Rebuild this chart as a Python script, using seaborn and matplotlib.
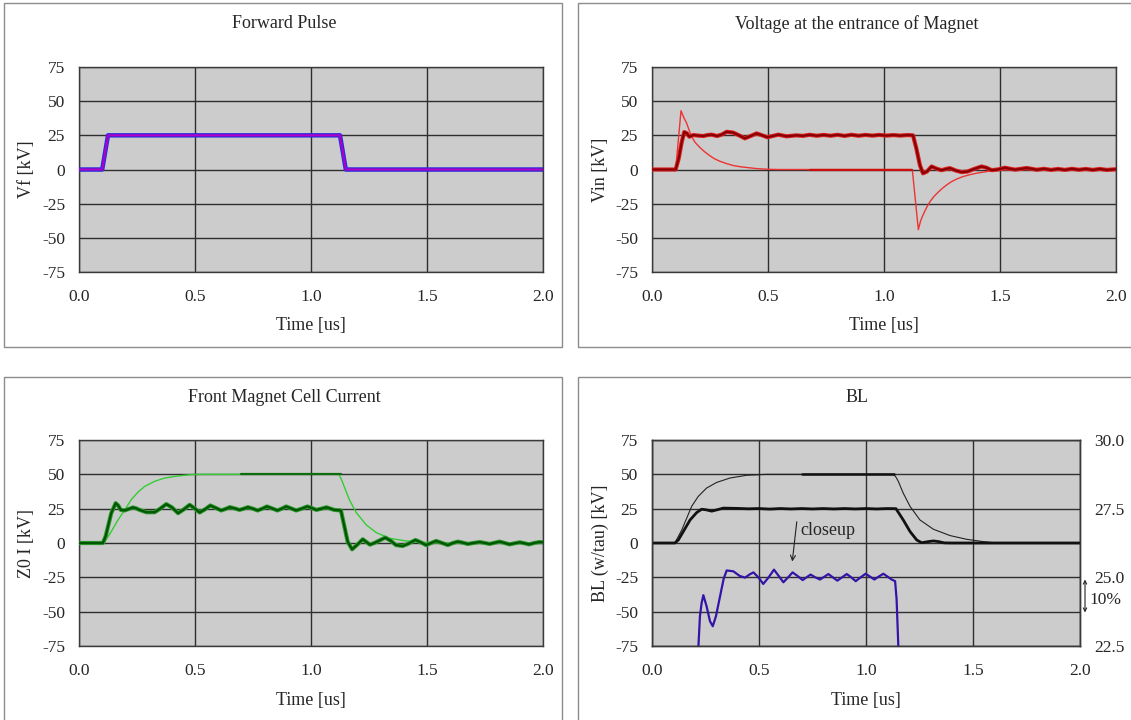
import numpy as np
import pandas as pd
import matplotlib
matplotlib.use("Agg")
import matplotlib.pyplot as plt
import seaborn as sns
from matplotlib.patches import Rectangle

# ---------------- data ----------------
x_ticks = [0.0, 0.5, 1.0, 1.5, 2.0]
x_tick_labels = ["0.0", "0.5", "1.0", "1.5", "2.0"]
y_ticks = [-75, -50, -25, 0, 25, 50, 75]
y_tick_labels = ["-75", "-50", "-25", "0", "25", "50", "75"]
r_ticks = [22.5, 25.0, 27.5, 30.0]
r_tick_labels = ["22.5", "25.0", "27.5", "30.0"]

# Panel 1: Forward Pulse
fp_t = [0.0, 0.100, 0.125, 1.125, 1.150, 2.0]
fp_v = [0, 0, 25, 25, 0, 0]

# Panel 2: Voltage at the entrance of Magnet
vin_thin_t = [0.0, 0.102, 0.125, 0.137, 0.149, 0.168, 0.185, 0.207, 0.228, 0.25, 0.27, 0.293,
              0.32, 0.35, 0.385, 0.422, 0.455, 0.494, 0.54, 1.122, 1.148, 1.158, 1.169, 1.183,
              1.198, 1.215, 1.234, 1.252, 1.27, 1.29, 1.313, 1.34, 1.37, 1.40, 1.428, 1.46,
              1.50, 1.557, 2.0]
vin_thin_v = [0, 0, 43.0, 38.0, 34.0, 25.0, 20.0, 16.0, 12.8, 10.0, 7.8, 6.0,
              4.4, 2.9, 1.9, 1.2, 0.6, 0.2, 0, 0, -44.0, -37.5, -33.0, -28.0,
              -23.6, -19.8, -16.5, -13.7, -11.3, -9.0, -7.0, -5.2, -3.8, -2.7, -1.9, -1.1,
              -0.5, 0, 0]
vin_seg_t = [0.68, 1.12]
vin_seg_v = [0, 0]
vin_t = [0.0, 0.102, 0.115, 0.128, 0.139, 0.150, 0.161, 0.178, 0.200, 0.221, 0.240, 0.257,
         0.280, 0.300, 0.322, 0.350, 0.375, 0.400, 0.425, 0.451, 0.475, 0.497, 0.520, 0.544,
         0.580, 0.623, 0.65, 0.68, 0.71, 0.74, 0.77, 0.80, 0.83, 0.86, 0.89, 0.92, 0.95,
         0.98, 1.01, 1.04, 1.07, 1.10, 1.125, 1.140, 1.155, 1.168, 1.185, 1.205, 1.228,
         1.248, 1.265, 1.284, 1.310, 1.334, 1.360, 1.390, 1.420, 1.440, 1.464, 1.490,
         1.521, 1.545, 1.565, 1.590, 1.615, 1.640, 1.658, 1.69, 1.72, 1.75, 1.78, 1.81,
         1.84, 1.87, 1.90, 1.93, 1.96, 2.0]
vin_v = [0, 0, 8.0, 20.0, 27.4, 26.5, 24.0, 25.2, 24.8, 24.5, 25.2, 25.5,
         24.5, 25.5, 27.6, 27.0, 25.0, 22.8, 24.5, 26.4, 25.0, 23.6, 24.5, 25.5,
         24.3, 25.0, 24.6, 25.4, 24.7, 25.3, 24.7, 25.4, 24.6, 25.4, 24.7, 25.3, 24.8,
         25.3, 24.8, 25.2, 24.8, 25.2, 25.0, 15.0, 3.0, -2.8, -1.5, 2.2, 0.5,
         -0.5, 0.3, 1.0, -0.8, -1.9, -1.5, 0.5, 2.2, 1.4, -0.5, 0.0,
         1.3, 0.5, -0.1, 0.5, 1.1, 0.4, -0.2, 0.5, -0.3, 0.4, -0.3, 0.5,
         -0.2, 0.4, -0.3, 0.4, -0.3, 0.2]

# Panel 3: Front Magnet Cell Current
zl_t = [0.0, 0.108, 0.139, 0.168, 0.197, 0.225, 0.254, 0.283, 0.326, 0.369, 0.427, 0.484,
        0.534, 1.120, 1.132, 1.144, 1.166, 1.195, 1.238, 1.281, 1.339, 1.410, 1.483, 1.555, 2.0]
zl_v = [0, 0, 8.3, 16.8, 24.0, 31.5, 37.0, 41.2, 44.9, 47.3, 48.8, 49.8,
        50, 50, 46.0, 40.7, 31.3, 22.2, 13.2, 7.6, 3.4, 1.5, 0.5, 0, 0]
zl_seg_t = [0.70, 1.13]
zl_seg_v = [50, 50]
zi_t = [0.0, 0.103, 0.115, 0.125, 0.139, 0.158, 0.168, 0.180, 0.197, 0.215, 0.233, 0.247,
        0.261, 0.290, 0.326, 0.350, 0.376, 0.400, 0.427, 0.452, 0.477, 0.500, 0.520, 0.543,
        0.566, 0.590, 0.613, 0.632, 0.650, 0.671, 0.692, 0.710, 0.728, 0.749, 0.770, 0.790,
        0.810, 0.832, 0.855, 0.874, 0.893, 0.914, 0.936, 0.960, 0.984, 1.003, 1.023, 1.045,
        1.067, 1.084, 1.100, 1.129, 1.144, 1.158, 1.177, 1.201, 1.223, 1.254, 1.273, 1.297,
        1.320, 1.345, 1.366, 1.395, 1.420, 1.450, 1.473, 1.496, 1.518, 1.539, 1.565, 1.590,
        1.612, 1.633, 1.655, 1.676, 1.700, 1.727, 1.750, 1.770, 1.792, 1.813, 1.835, 1.856,
        1.878, 1.900, 1.920, 1.940, 1.962, 1.985, 2.0]
zi_v = [0, 0, 5.0, 12.0, 21.7, 29.0, 27.5, 24.1, 23.7, 24.8, 25.9, 25.2,
        24.1, 22.4, 22.4, 25.0, 28.3, 26.0, 21.7, 24.5, 27.8, 25.0, 22.2, 24.5,
        27.3, 25.5, 23.7, 24.8, 26.1, 25.2, 24.1, 25.0, 26.1, 25.0, 23.7, 25.0,
        26.6, 25.2, 23.7, 25.0, 26.6, 25.2, 23.7, 25.0, 26.6, 25.5, 24.1, 25.0,
        26.0, 25.0, 24.1, 23.7, 12.0, 1.0, -4.6, -1.0, 2.7, -1.2, 0.0, 2.0,
        3.9, 1.5, -1.5, -2.2, -0.5, 2.2, 0.5, -1.5, 0.0, 1.5, 0.0, -1.5,
        0.0, 1.0, 0.2, -0.7, 0.0, 0.7, 0.0, -0.7, 0.2, 1.0, 0.0, -1.0,
        -0.2, 0.5, -0.2, -1.0, 0.0, 0.7, 0.5]

# Panel 4: BL
bl_thin_t = [0.0, 0.107, 0.139, 0.162, 0.185, 0.216, 0.255, 0.302, 0.364, 0.442, 0.536,
             1.128, 1.140, 1.151, 1.174, 1.206, 1.252, 1.315, 1.393, 1.470, 1.548, 1.610, 2.0]
bl_thin_v = [0, 0, 9.5, 18.0, 26.6, 33.9, 40.0, 44.1, 47.3, 49.3, 50,
             50, 48.0, 44.9, 36.3, 26.6, 16.8, 10.0, 5.4, 2.7, 1.0, 0, 0]
bl_seg_t = [0.70, 1.13]
bl_seg_v = [50, 50]
bl_t = [0.0, 0.107, 0.123, 0.146, 0.178, 0.209, 0.232, 0.255, 0.279, 0.302, 0.333, 0.40,
        0.45, 0.50, 0.55, 0.60, 0.65, 0.70, 0.75, 0.80, 0.85, 0.90, 0.95, 1.00, 1.05,
        1.10, 1.140, 1.174, 1.206, 1.237, 1.260, 1.290, 1.315, 1.340, 1.365, 1.40, 2.0]
bl_v = [0, 0, 2.2, 8.3, 16.8, 22.2, 24.6, 24.1, 23.2, 24.1, 25.4, 25.2,
        24.9, 25.1, 24.7, 25.1, 24.8, 25.1, 24.8, 25.1, 24.8, 25.1, 24.8, 25.1, 24.8,
        25.1, 25.0, 16.8, 8.3, 2.2, 0.2, 1.0, 1.5, 1.0, 0.1, 0, 0]
# close-up (right axis units)
cl_t = [0.200, 0.217, 0.224, 0.232, 0.240, 0.255, 0.271, 0.284, 0.299, 0.318, 0.335, 0.349,
        0.380, 0.410, 0.435, 0.455, 0.474, 0.497, 0.520, 0.545, 0.570, 0.592, 0.614, 0.636,
        0.657, 0.680, 0.704, 0.722, 0.741, 0.763, 0.785, 0.805, 0.824, 0.845, 0.866, 0.888,
        0.910, 0.931, 0.952, 0.975, 0.998, 1.018, 1.039, 1.060, 1.081, 1.100, 1.120, 1.136,
        1.143, 1.151, 1.165]
cl_v = [21.5, 22.5, 23.59, 24.07, 24.35, 23.95, 23.40, 23.22, 23.59, 24.31, 24.95, 25.25,
        25.22, 25.05, 24.99, 25.10, 25.18, 25.00, 24.76, 25.00, 25.28, 25.05, 24.82, 25.00,
        25.18, 25.05, 24.90, 25.00, 25.10, 25.00, 24.92, 25.02, 25.12, 25.00, 24.88, 25.00,
        25.12, 25.00, 24.86, 25.00, 25.13, 25.03, 24.92, 25.03, 25.13, 25.03, 24.92, 24.86,
        24.20, 22.50, 21.50]

titles = ["Forward Pulse", "Voltage at the entrance of Magnet",
          "Front Magnet Cell Current", "BL"]
ylabels = ["Vf [kV]", "Vin [kV]", "Z0 I [kV]", "BL (w/tau) [kV]"]
xlabel = "Time [us]"

# ---------------- style ----------------
sns.set_style("white")
plt.rcParams['font.family'] = ['Liberation Serif', 'DejaVu Serif']
TICK_FS = 12.5
LAB_FS = 13

W, H = 1131, 720
fig = plt.figure(figsize=(W / 100, H / 100), dpi=100)
fig.patch.set_facecolor('white')


def box(l, t, r, b):
    fig.patches.append(Rectangle((l / W, 1 - b / H), (r - l) / W, (b - t) / H,
                                 transform=fig.transFigure, fill=False,
                                 edgecolor='#8c8c8c', lw=1.0, zorder=0))


def make_ax(l, t, r, b):
    ax = fig.add_axes([l / W, 1 - b / H, (r - l) / W, (b - t) / H])
    ax.set_facecolor('#cccccc')
    ax.set_xlim(0, 2)
    ax.set_ylim(-75, 75)
    ax.set_axisbelow(True)
    return ax


def finish(ax):
    ax.set_xticks(x_ticks)
    ax.set_xticklabels(x_tick_labels)
    ax.set_yticks(y_ticks)
    ax.set_yticklabels(y_tick_labels)
    ax.set_xlabel("")
    ax.set_ylabel("")
    ax.grid(True, color='#2e2e2e', lw=1.0)
    ax.tick_params(axis='x', length=0, pad=12, labelsize=TICK_FS)
    ax.tick_params(axis='y', length=0, pad=10, labelsize=TICK_FS)
    for s in ax.spines.values():
        s.set_color('#3a3a3a')
        s.set_linewidth(1.0)


def line(ax, t, v, color, lw, z=3):
    df = pd.DataFrame({'t': t, 'v': v})
    sns.lineplot(data=df, x='t', y='v', ax=ax, color=color, linewidth=lw,
                 sort=False, estimator=None, legend=False, zorder=z)


box(4, 3, 562, 347)
box(578, 3, 1140, 347)
box(4, 377, 562, 730)
box(578, 377, 1140, 730)

# panel geometry (pixels: left, top, right, bottom)
geo = [(79, 67, 543, 272), (652, 67, 1116, 272), (79, 440, 543, 646), (652, 440, 1080, 646)]
title_pos = [(284, 24), (857, 24), (284, 398), (857, 398)]
ylab_x = [27, 600, 27, 600]
xlab_y = [326, 326, 700, 700]

axes = [make_ax(*g) for g in geo]

# Panel 1
line(axes[0], fp_t, fp_v, '#2a2ae0', 3.2)
line(axes[0], fp_t, fp_v, '#b000c8', 1.5, z=4)
# Panel 2
line(axes[1], vin_thin_t, vin_thin_v, '#ee3333', 1.0)
line(axes[1], vin_seg_t, vin_seg_v, '#c81010', 1.6)
line(axes[1], vin_t, vin_v, '#dd2222', 3.0, z=4)
line(axes[1], vin_t, vin_v, '#880000', 1.6, z=5)
# Panel 3
line(axes[2], zl_t, zl_v, '#33cc33', 1.0)
line(axes[2], zl_seg_t, zl_seg_v, '#0e6e0e', 1.6)
line(axes[2], zi_t, zi_v, '#2e9a2e', 3.0, z=4)
line(axes[2], zi_t, zi_v, '#005500', 1.6, z=5)
# Panel 4
line(axes[3], bl_thin_t, bl_thin_v, '#222222', 0.8)
line(axes[3], bl_seg_t, bl_seg_v, '#111111', 1.8)
line(axes[3], bl_t, bl_v, '#111111', 2.0, z=4)

for i, ax in enumerate(axes):
    finish(ax)
    l, t, r, b = geo[i]
    fig.text(title_pos[i][0] / W, 1 - title_pos[i][1] / H, titles[i],
             ha='center', va='center', fontsize=LAB_FS)
    fig.text(ylab_x[i] / W, 1 - ((t + b) / 2) / H, ylabels[i], rotation=90,
             ha='center', va='center', fontsize=LAB_FS)
    fig.text(((l + r) / 2) / W, 1 - xlab_y[i] / H, xlabel,
             ha='center', va='center', fontsize=LAB_FS)

# right axis of BL panel
ax4 = axes[3]
ax4r = ax4.twinx()
ax4r.set_ylim(22.5, 30)
ax4r.grid(False)
line(ax4r, cl_t, cl_v, '#3414a8', 1.6, z=6)
ax4r.set_ylabel("")
ax4r.set_xlabel("")
ax4r.set_yticks(r_ticks)
ax4r.set_yticklabels(r_tick_labels)
ax4r.tick_params(axis='y', length=0, pad=10, labelsize=TICK_FS)
for s in ax4r.spines.values():
    s.set_color('#3a3a3a')
    s.set_linewidth(1.0)

ax4.text(0.692, 8.8, "closeup", ha='left', va='center', fontsize=LAB_FS, zorder=7)
ax4.annotate("", xy=(0.654, -15.5), xytext=(0.678, 17.5),
             arrowprops=dict(arrowstyle='->', color='#222222', lw=0.8,
                             mutation_scale=9), zorder=7)
ytr = ax4r.get_yaxis_transform()
ax4r.annotate("", xy=(1.0117, 23.72), xytext=(1.0117, 24.92),
              xycoords=ytr, textcoords=ytr, annotation_clip=False,
              arrowprops=dict(arrowstyle='<->', color='#222222', lw=0.8,
                              mutation_scale=6, shrinkA=0, shrinkB=0))
ax4r.text(1.021, 24.19, "10%", transform=ytr, ha='left', va='center',
          fontsize=TICK_FS, clip_on=False)

fig.savefig("out.png", dpi=100, facecolor='white')
